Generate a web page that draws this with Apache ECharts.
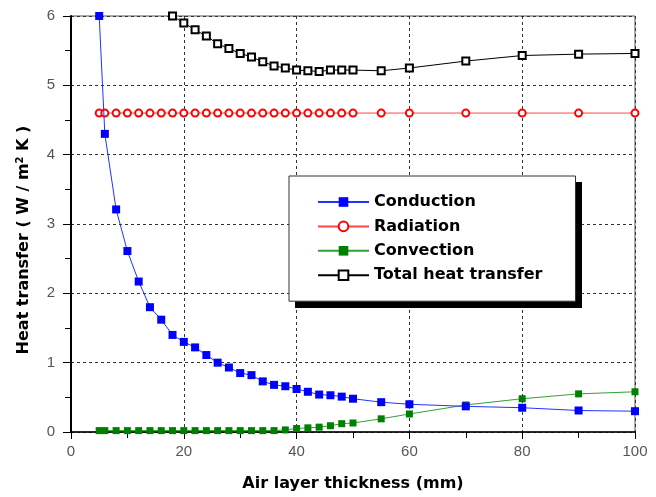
<!DOCTYPE html>
<html>
<head>
<meta charset="utf-8">
<script src="https://cdn.jsdelivr.net/npm/echarts@6/dist/echarts.min.js"></script>
<style>
  html, body { margin: 0; padding: 0; background: #fff; }
  #chart { width: 656px; height: 497px; }
</style>
</head>
<body>
<div id="chart"></div>
<script>
'use strict';

// 空气层厚度 (mm)
const thickness = [5, 6, 8, 10, 12, 14, 16, 18, 20, 22, 24, 26, 28, 30, 32, 34, 36, 38, 40, 42, 44, 46, 48, 50, 55, 60, 70, 80, 90, 100];

const conduction = [6.0, 4.30, 3.21, 2.61, 2.17, 1.80, 1.62, 1.40, 1.30, 1.22, 1.11, 1.00, 0.93, 0.85, 0.82, 0.73, 0.68, 0.66, 0.62, 0.58, 0.54, 0.53, 0.51, 0.48, 0.43, 0.40, 0.37, 0.35, 0.31, 0.30];
const radiation = [4.6, 4.6, 4.6, 4.6, 4.6, 4.6, 4.6, 4.6, 4.6, 4.6, 4.6, 4.6, 4.6, 4.6, 4.6, 4.6, 4.6, 4.6, 4.6, 4.6, 4.6, 4.6, 4.6, 4.6, 4.6, 4.6, 4.6, 4.6, 4.6, 4.6];
const convection = [0.02, 0.02, 0.02, 0.02, 0.02, 0.02, 0.02, 0.02, 0.02, 0.02, 0.02, 0.02, 0.02, 0.02, 0.02, 0.02, 0.02, 0.03, 0.05, 0.06, 0.07, 0.09, 0.12, 0.13, 0.19, 0.26, 0.39, 0.48, 0.55, 0.58];
// 小厚度时总值超出坐标范围，图中不可见
const total = [null, null, null, null, null, null, null, 6.0, 5.90, 5.80, 5.71, 5.60, 5.53, 5.46, 5.41, 5.34, 5.28, 5.25, 5.22, 5.21, 5.20, 5.22, 5.22, 5.22, 5.21, 5.25, 5.35, 5.43, 5.45, 5.46];

const seriesNames = ['Conduction', 'Radiation', 'Convection', 'Total heat transfer'];

function pairs(ys) {
    return thickness.map((x, i) => [x, ys[i]]);
}

const myChart = echarts.init(document.getElementById('chart'));

const labelFont = { fontFamily: 'Liberation Sans, Arial, sans-serif', fontSize: 15, color: '#555' };
const nameFont = { fontFamily: 'DejaVu Sans, sans-serif', fontWeight: 'bold', fontSize: 16, color: '#000' };
const gridLine = { show: true, lineStyle: { type: [3, 3], color: '#333', width: 1 } };

const option = {
    animation: false,
    backgroundColor: '#fff',
    grid: {
        left: 71, right: 21, top: 16, bottom: 63,
        show: true, borderColor: '#555', borderWidth: 1
    },
    // 图例框的黑色投影
    graphic: [{
        type: 'rect',
        left: 295,
        top: 182,
        shape: { width: 287, height: 126 },
        style: { fill: '#000' },
        z: 3
    }],
    legend: {
        data: seriesNames,
        orient: 'vertical',
        left: 289,
        top: 176,
        itemWidth: 51,
        itemHeight: 12,
        itemGap: 8.4,
        padding: [18, 33, 18, 28],
        backgroundColor: '#fff',
        borderColor: '#333',
        borderWidth: 1,
        z: 6,
        textStyle: nameFont
    },
    xAxis: {
        type: 'value',
        min: 0,
        max: 100,
        interval: 20,
        name: 'Air layer thickness (mm)',
        nameLocation: 'middle',
        nameGap: 44,
        nameTextStyle: nameFont,
        axisLine: { show: true, onZero: false, lineStyle: { color: '#000', width: 1.5 } },
        axisTick: { show: true, inside: false, length: 7, lineStyle: { color: '#000' } },
        minorTick: { show: true, splitNumber: 2, length: 6, lineStyle: { color: '#000' } },
        axisLabel: Object.assign({ margin: 12 }, labelFont),
        splitLine: gridLine
    },
    yAxis: {
        type: 'value',
        min: 0,
        max: 6,
        interval: 1,
        name: '{a|Heat transfer ( W / m}{s|2}{a| K )}',
        nameLocation: 'middle',
        nameGap: 38,
        nameTextStyle: {
            padding: [0, 32, 0, 0],
            rich: {
                a: nameFont,
                s: { fontFamily: 'DejaVu Sans, sans-serif', fontWeight: 'bold', fontSize: 10, color: '#000', verticalAlign: 'top', padding: [0, 0, 8, 0] }
            }
        },
        axisLine: { show: true, onZero: false, lineStyle: { color: '#000', width: 2 } },
        axisTick: { show: true, inside: false, length: 8, lineStyle: { color: '#000' } },
        minorTick: { show: true, splitNumber: 2, length: 6, lineStyle: { color: '#000' } },
        axisLabel: Object.assign({ margin: 16 }, labelFont),
        splitLine: gridLine
    },
    series: [
        {
            name: 'Conduction',
            type: 'line',
            data: pairs(conduction),
            symbol: 'rect',
            symbolSize: 8,
            lineStyle: { color: '#2233ff', width: 1 },
            itemStyle: { color: '#0000ff' },
            z: 4
        },
        {
            name: 'Radiation',
            type: 'line',
            data: pairs(radiation),
            symbol: 'emptyCircle',
            symbolSize: 7,
            lineStyle: { color: '#ff4444', width: 1 },
            itemStyle: { color: '#ff0000', borderWidth: 1 },
            z: 3
        },
        {
            name: 'Convection',
            type: 'line',
            data: pairs(convection),
            symbol: 'rect',
            symbolSize: 7,
            lineStyle: { color: '#33a033', width: 1 },
            itemStyle: { color: '#008000' },
            z: 3
        },
        {
            name: 'Total heat transfer',
            type: 'line',
            data: pairs(total),
            symbol: 'emptyRect',
            symbolSize: 7,
            lineStyle: { color: '#000', width: 1 },
            itemStyle: { color: '#000', borderWidth: 1.2 },
            z: 3
        }
    ]
};

myChart.setOption(option);
</script>
</body>
</html>
